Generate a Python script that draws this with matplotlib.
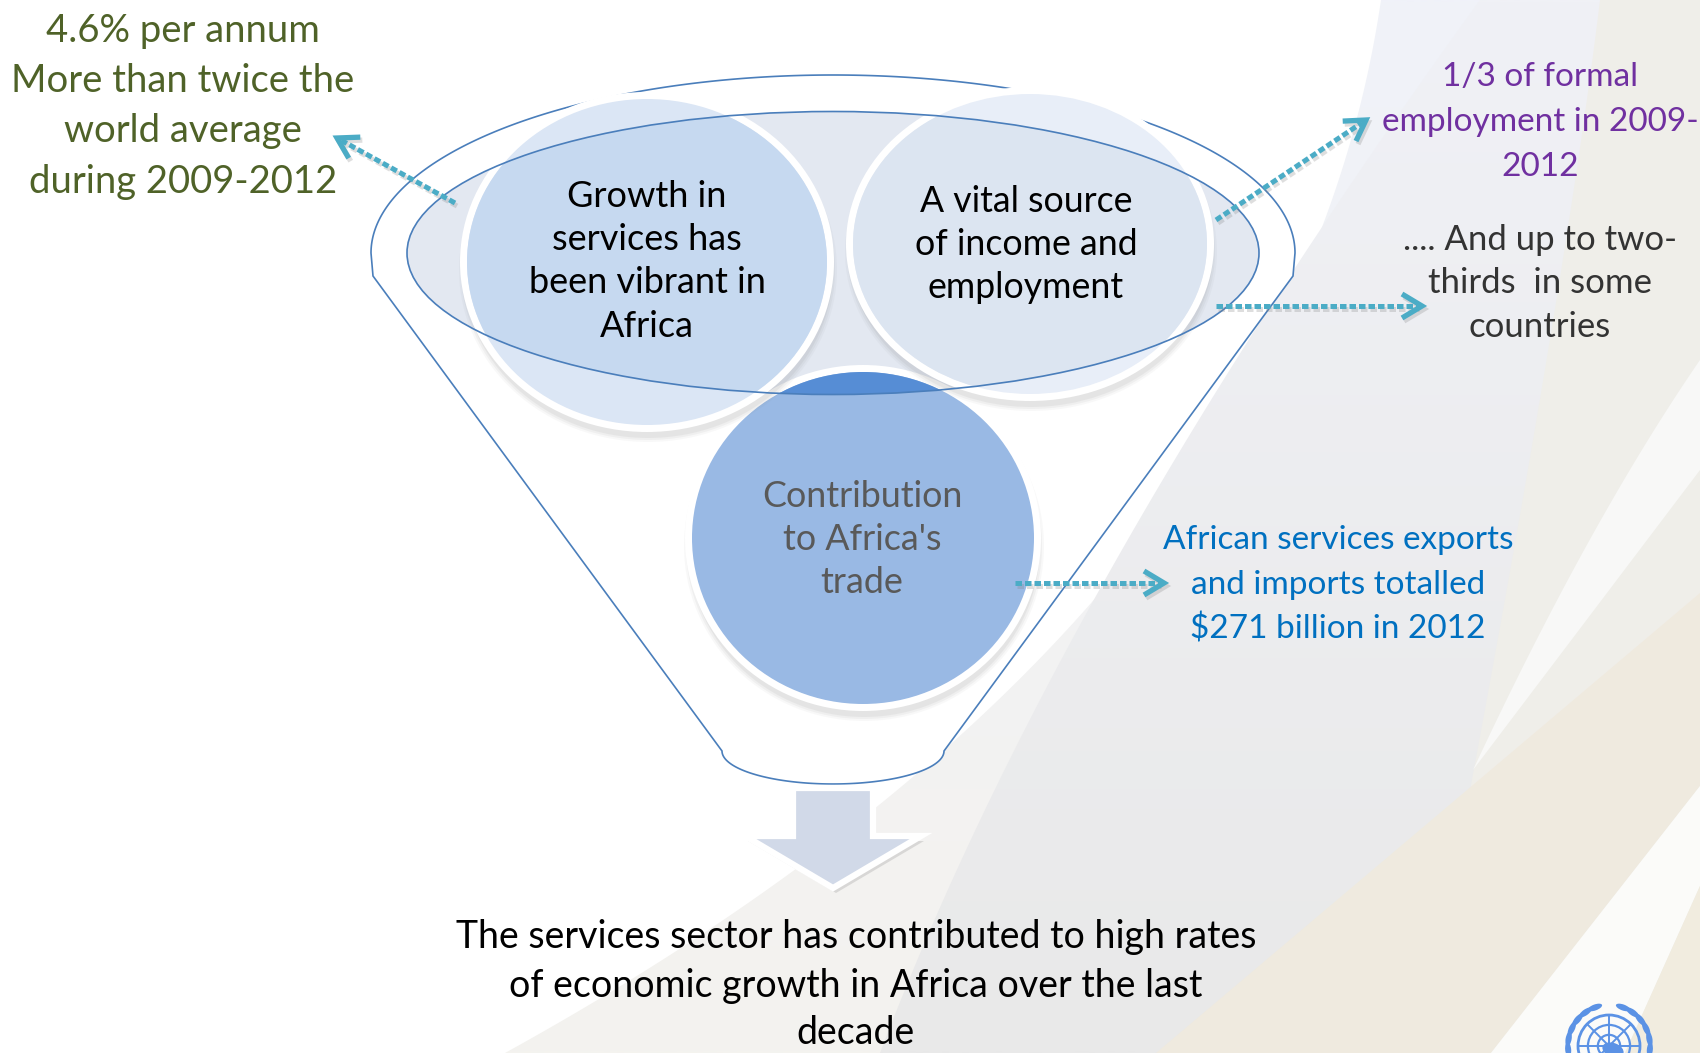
import numpy as np
import matplotlib
matplotlib.use("Agg")
import matplotlib.pyplot as plt
from matplotlib.colors import to_rgb
from matplotlib.patches import Ellipse, Polygon, Circle

W, H = 1700, 1053

# ---- text content -------------------------------------------------------
circle_growth = ["Growth in", "services has", "been vibrant in", "Africa"]
circle_income = ["A vital source", "of income and", "employment"]
circle_trade = ["Contribution", "to Africa's", "trade"]
note_growth = ["4.6% per annum", "More than twice the", "world average", "during 2009-2012"]
note_formal = ["1/3 of formal", "employment in 2009-", "2012"]
note_share = [".... And up to two-", "thirds  in some", "countries"]
note_trade = ["African services exports", "and imports totalled", "$271 billion in 2012"]
conclusion = ["The services sector has contributed to high rates",
              "of economic growth in Africa over the last",
              "decade"]

FONT = "Lato"
TEAL = "#4bacc6"
OUTLINE = "#4a7ebb"

fig = plt.figure(figsize=(W / 100, H / 100), dpi=100)
ax = fig.add_axes([0, 0, 1, 1])
ax.set_xlim(0, W)
ax.set_ylim(H, 0)
ax.axis("off")


def qbez(p0, c, p2, n=120):
    t = np.linspace(0, 1, n)[:, None]
    p0, c, p2 = (np.asarray(v, float) for v in (p0, c, p2))
    return (1 - t) ** 2 * p0 + 2 * (1 - t) * t * c + t ** 2 * p2


def flat(pts, color, z):
    ax.add_patch(Polygon(pts, closed=True, fc=color, ec="none", zorder=z))


def gradient(pts, top, bottom, z):
    patch = Polygon(pts, closed=True, fc="none", ec="none", zorder=z)
    ax.add_patch(patch)
    c0, c1 = np.array(to_rgb(top)), np.array(to_rgb(bottom))
    t = np.linspace(0, 1, 256)[:, None, None]
    img = (1 - t) * c0 + t * c1
    im = ax.imshow(img, extent=[0, W, H, 0], aspect="auto", zorder=z,
                   interpolation="bilinear")
    im.set_clip_path(patch)


# ---- background swooshes -------------------------------------------------
c1 = qbez((505, H), (1290, 620), (1381, 0))
gradient(np.vstack([c1, [[W, 0], [W, H]]]), "#f0f2f9", "#f4f3ef", 0.1)

c2 = qbez((880, H), (1060, 580), (1480, 0))
gradient(np.vstack([c2, [[W, 0], [W, H]]]), "#f0f1f6", "#e9e9e9", 0.2)

ck = qbez((1600, 0), (1560, 330), (1420, H))
flat(np.vstack([ck, [[W, H], [W, 0]]]), "#efeee9", 0.3)

w_up = qbez((1473, 770), (1590, 520), (W, 360))
flat(np.vstack([w_up, [[W, 470]]]), "#f8f8f7", 0.4)

flat([(1156, H), (W, 593), (W, 786), (1491, H)], "#efeadf", 0.5)
flat([(1491, H), (W, 786), (W, 886), (1625, H)], "#fbfbf9", 0.5)
flat([(1625, H), (W, 886), (W, H)], "#f1ecdf", 0.5)

# ---- UN emblem (bottom right, partly cut by the edge) ---------------------
UNB = "#5b92e5"
ux, uy, ur = 1609, 1046, 31
ax.add_patch(Circle((ux, uy), ur, fill=False, ec=UNB, lw=2.0, zorder=1))
for r in (ur * 0.68, ur * 0.36):
    ax.add_patch(Circle((ux, uy), r, fill=False, ec=UNB, lw=1.6, zorder=1))
for ang in np.radians(np.arange(0, 360, 45)):
    ax.plot([ux, ux + ur * np.cos(ang)], [uy, uy - ur * np.sin(ang)],
            color=UNB, lw=1.4, zorder=1)
ax.add_patch(Ellipse((ux + 4, uy + 4), 22, 14, angle=20, fc=UNB, ec="none", zorder=1))
for th in np.radians([110, 125, 140, 155, 170, 185]):
    for side in (1, -1):
        a = th if side == 1 else np.pi - th
        px, py = ux + (ur + 10) * np.cos(a), uy - (ur + 10) * np.sin(a)
        tang = np.degrees(np.arctan2(-np.cos(a), -np.sin(a)))
        ax.add_patch(Ellipse((px, py), 15, 6, angle=tang, fc=UNB, ec="none", zorder=1))

# ---- funnel ----------------------------------------------------------------
fcx, fcy, frx, fry = 833, 253, 462, 178
tt = np.linspace(np.pi, 0, 240)
top = np.c_[fcx + frx * np.cos(tt), fcy - fry * np.sin(tt)]
tb = np.linspace(0, np.pi, 120)
bot = np.c_[833 + 111 * np.cos(tb), 751 + 33 * np.sin(tb)]
funnel = np.vstack([top, [[1293, 276]], bot, [[373, 276]]])
ax.add_patch(Polygon(funnel, closed=True, fc="white", ec=OUTLINE, lw=1.2, zorder=1.5))

inner = Ellipse((833, 253), 852, 283, fc="#e3e8f1", ec="none", zorder=2)
ax.add_patch(inner)


def bubble(center, rx, ry, col_out, col_in, z):
    x, y = center
    for grow, a in ((9, 0.05), (7, 0.07), (5, 0.09)):
        ax.add_patch(Ellipse((x + 1, y + 8), 2 * (rx + grow), 2 * (ry + grow),
                             fc="#808080", alpha=a, ec="none", zorder=z))
    ax.add_patch(Ellipse(center, 2 * (rx + 7), 2 * (ry + 7), fc="white", ec="none", zorder=z + 0.1))
    ax.add_patch(Ellipse(center, 2 * rx, 2 * ry, fc=col_out, ec="none", zorder=z + 0.2))
    cap = Ellipse(center, 2 * rx, 2 * ry, fc=col_in, ec="none", zorder=z + 0.3)
    ax.add_patch(cap)
    cap.set_clip_path(inner)


bubble((863, 538), 171, 166, "#99b9e4", "#568dd5", 3)
bubble((647, 262), 180, 163, "#dbe6f5", "#c6d9f0", 4)
bubble((1030, 244), 177, 150, "#e8eef8", "#dce5f1", 4)

ax.add_patch(Ellipse((833, 253), 852, 283, fill=False, ec=OUTLINE, lw=1.2, zorder=6))

# ---- block arrow ----------------------------------------------------------
arrow = [(793, 788), (873, 788), (873, 836), (921, 836), (833, 888), (745, 836), (793, 836)]
ax.add_patch(Polygon([(px + 3, py + 5) for px, py in arrow], closed=True,
                     fc="#9a9a9a", ec="none", alpha=0.30, zorder=2))
ax.add_patch(Polygon(arrow, closed=True, fc="#d1d9e8", ec="white", lw=4.5,
                     joinstyle="miter", zorder=2.1))


# ---- dotted callout arrows ----------------------------------------------------
def dotted_arrow(p0, p1):
    p0, p1 = np.asarray(p0, float), np.asarray(p1, float)
    d = p1 - p0
    u = d / np.hypot(*d)
    n = np.array([-u[1], u[0]])
    end = p1 - u * 5
    for off, col, a in (((2, 3), "#7f7f7f", 0.25), ((0, 0), TEAL, 1.0)):
        o = np.array(off)
        ax.plot([p0[0] + o[0], end[0] + o[0]], [p0[1] + o[1], end[1] + o[1]],
                color=col, alpha=a, lw=3.6, dashes=(1.3, 0.6),
                dash_capstyle="butt", zorder=7)
        a1 = p1 - u * 20 + n * 12 + o
        a2 = p1 - u * 20 - n * 12 + o
        tip = p1 + o
        ax.plot([a1[0], tip[0], a2[0]], [a1[1], tip[1], a2[1]], color=col, alpha=a,
                lw=3.8, solid_joinstyle="miter", solid_capstyle="butt", zorder=7)


dotted_arrow((455, 203), (337, 138))
dotted_arrow((1216, 220), (1366, 120))
dotted_arrow((1216, 306), (1422, 306))
dotted_arrow((1015, 583), (1164, 583))


# ---- text -------------------------------------------------------------------
def block(lines, x, ys, size, color, weight="normal"):
    for s, y in zip(lines, ys):
        ax.text(x, y, s, ha="center", va="baseline", fontsize=size, color=color,
                family=FONT, fontweight=weight, zorder=9)


block(note_growth, 183, [42, 92, 142, 193], 27.5, "#4f6228")
block(circle_growth, 647, [207, 250, 293, 337], 26, "#000000")
block(circle_income, 1026, [212, 255, 298], 25.7, "#000000")
block(circle_trade, 862, [507, 550, 593], 25.8, "#595959")
block(note_formal, 1540, [86, 131, 176], 24, "#7030a0")
block(note_share, 1540, [250, 293, 337], 25, "#333333")
block(note_trade, 1338, [549, 594, 638], 24, "#0070c0")
block(conclusion, 856, [948, 997, 1044], 27, "#000000")

ax.set_xlim(0, W)
ax.set_ylim(H, 0)
fig.savefig("out.png", dpi=100)
